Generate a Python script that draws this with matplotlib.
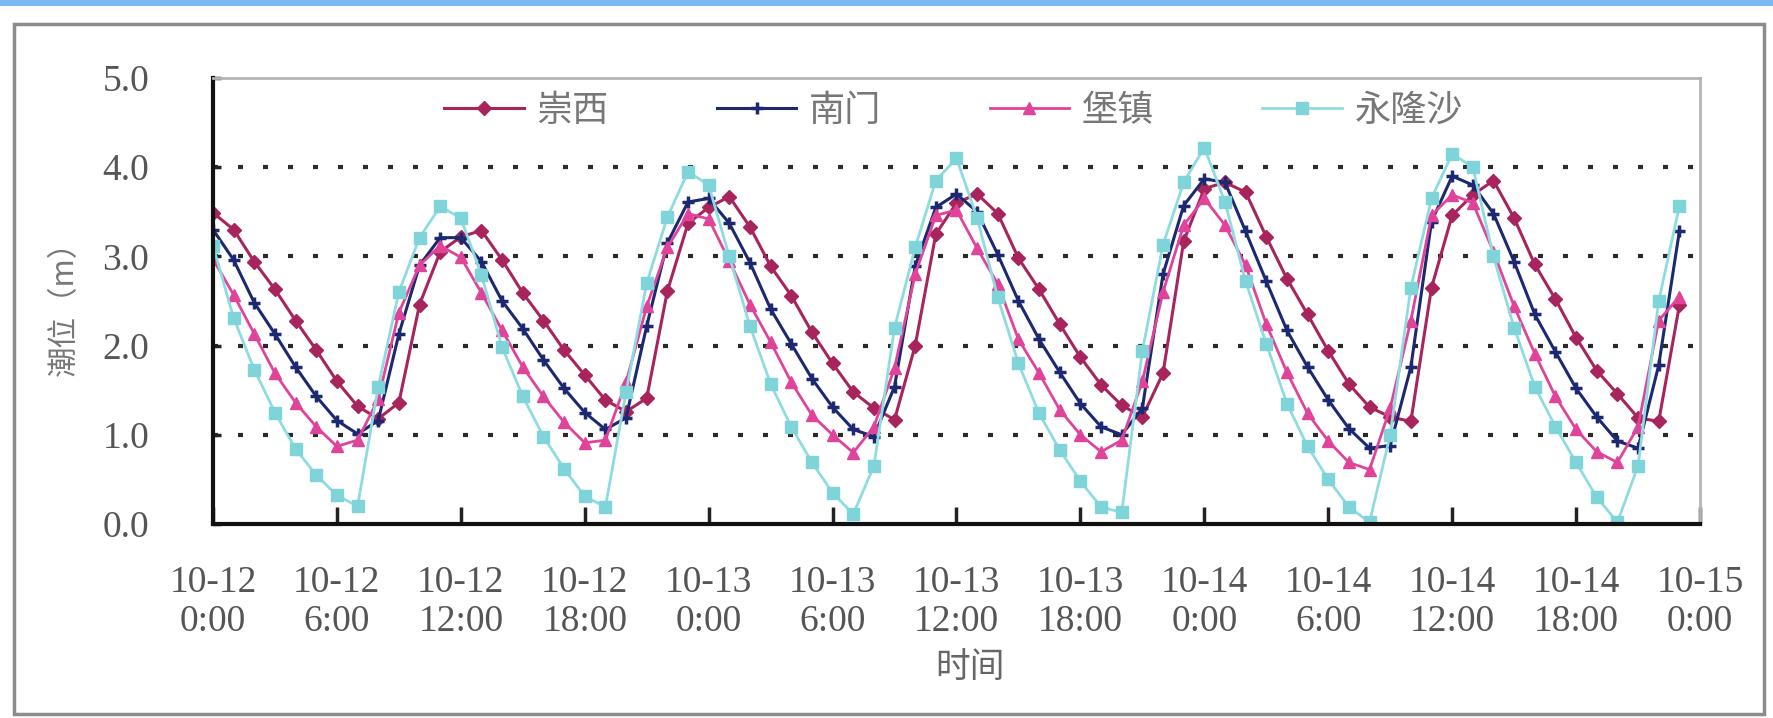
import matplotlib
matplotlib.use("Agg")
import matplotlib.pyplot as plt
from matplotlib.patches import Rectangle

# ---------------- data ----------------
hours = list(range(72))
series_names = ["崇西", "南门", "堡镇", "永隆沙"]

chongxi = [3.49, 3.30, 2.94, 2.63, 2.28, 1.95, 1.60, 1.32, 1.18, 1.36,
           2.46, 3.05, 3.22, 3.29, 2.96, 2.59, 2.28, 1.95, 1.67, 1.39,
           1.26, 1.41, 2.61, 3.37, 3.55, 3.67, 3.33, 2.89, 2.56, 2.15,
           1.80, 1.48, 1.30, 1.17, 2.00, 3.25, 3.60, 3.70, 3.48, 2.98,
           2.63, 2.24, 1.87, 1.56, 1.33, 1.20, 1.69, 3.17, 3.76, 3.83,
           3.72, 3.22, 2.75, 2.35, 1.94, 1.57, 1.31, 1.20, 1.15, 2.65,
           3.46, 3.69, 3.85, 3.43, 2.91, 2.52, 2.09, 1.72, 1.46, 1.19,
           1.15, 2.45]
nanmen = [3.30, 2.96, 2.48, 2.13, 1.76, 1.43, 1.16, 1.01, 1.16, 2.13,
          2.90, 3.21, 3.21, 2.94, 2.50, 2.19, 1.84, 1.52, 1.25, 1.06,
          1.19, 2.22, 3.15, 3.61, 3.65, 3.37, 2.93, 2.41, 2.02, 1.63,
          1.31, 1.06, 0.98, 1.54, 2.89, 3.55, 3.70, 3.50, 3.02, 2.50,
          2.07, 1.70, 1.35, 1.09, 1.00, 1.30, 2.80, 3.57, 3.87, 3.83,
          3.28, 2.72, 2.17, 1.76, 1.39, 1.07, 0.85, 0.88, 1.76, 3.39,
          3.90, 3.80, 3.48, 2.94, 2.35, 1.93, 1.52, 1.20, 0.93, 0.85,
          1.78, 3.28]
baozhen = [2.97, 2.57, 2.13, 1.69, 1.36, 1.09, 0.87, 0.94, 1.40, 2.37,
           2.90, 3.12, 2.99, 2.59, 2.17, 1.76, 1.43, 1.14, 0.91, 0.94,
           1.59, 2.44, 3.10, 3.48, 3.42, 2.95, 2.46, 2.04, 1.59, 1.22,
           1.00, 0.80, 1.09, 1.75, 2.80, 3.46, 3.52, 3.09, 2.69, 2.07,
           1.69, 1.28, 1.00, 0.81, 0.94, 1.60, 2.60, 3.35, 3.65, 3.35,
           2.90, 2.24, 1.70, 1.24, 0.93, 0.69, 0.61, 1.30, 2.28, 3.46,
           3.69, 3.60, 3.05, 2.44, 1.91, 1.43, 1.06, 0.81, 0.69, 1.09,
           2.28, 2.55]
yonglongsha = [3.12, 2.31, 1.73, 1.25, 0.84, 0.55, 0.32, 0.20, 1.54, 2.60,
               3.21, 3.56, 3.43, 2.79, 1.98, 1.43, 0.98, 0.62, 0.31, 0.19,
               1.48, 2.70, 3.44, 3.95, 3.80, 3.00, 2.22, 1.57, 1.09, 0.69,
               0.35, 0.11, 0.65, 2.20, 3.10, 3.85, 4.10, 3.43, 2.54, 1.80,
               1.24, 0.83, 0.48, 0.19, 0.13, 1.94, 3.13, 3.83, 4.22, 3.61,
               2.72, 2.02, 1.35, 0.87, 0.50, 0.19, 0.02, 1.00, 2.65, 3.65,
               4.15, 4.00, 3.00, 2.20, 1.54, 1.09, 0.69, 0.30, 0.02, 0.65,
               2.50, 3.56]

tick_hours = [0, 6, 12, 18, 24, 30, 36, 42, 48, 54, 60, 66, 72]
tick_labels = ["10-12\n0:00", "10-12\n6:00", "10-12\n12:00", "10-12\n18:00",
               "10-13\n0:00", "10-13\n6:00", "10-13\n12:00", "10-13\n18:00",
               "10-14\n0:00", "10-14\n6:00", "10-14\n12:00", "10-14\n18:00",
               "10-15\n0:00"]
y_ticks = [0, 1, 2, 3, 4, 5]
y_tick_labels = ["0.0", "1.0", "2.0", "3.0", "4.0", "5.0"]
grid_levels = [1, 2, 3, 4]

# ---------------- styles ----------------
CJK = ["Noto Sans CJK SC", "DejaVu Sans"]
NUM = ["Liberation Serif", "DejaVu Serif"]
styles = [
    dict(color="#A8245C", marker="D", ms=7, mfc="#A8245C", mec="#A8245C", lw=2.2),
    dict(color="#1C2870", marker="+", ms=9, mew=2.5, lw=2.2),
    dict(color="#E0449A", marker="^", ms=9, mfc="#E0449A", mec="#E0449A", lw=2.0),
    dict(color="#8EDCE0", marker="s", ms=8, mfc="#7ED4D8", mec="#7ED4D8", lw=2.0),
]

fig = plt.figure(figsize=(17.73, 7.18), dpi=100)
fig.patch.set_facecolor("white")

# top blue strip and outer frame
fig.add_artist(Rectangle((0, 1 - 6 / 718), 1, 6 / 718, transform=fig.transFigure,
                         facecolor="#7DB9F5", edgecolor="none"))
fig.add_artist(Rectangle((14 / 1773, 4 / 718), (1764 - 14) / 1773, (694 - 4) / 718,
                         transform=fig.transFigure, facecolor="none",
                         edgecolor="#8c8c8c", lw=2.5))

ax = fig.add_axes([213 / 1773, 1 - 524 / 718, (1700 - 213) / 1773, (524 - 78) / 718])
ax.set_facecolor("white")

all_series = [chongxi, nanmen, baozhen, yonglongsha]
for name, vals, st in zip(series_names, all_series, styles):
    ax.plot(hours, vals, label=name, **st)

for lv in grid_levels:
    ax.axhline(lv, color="#2a2a2a", lw=3.0, ls=(0, (1.2, 4.8)), zorder=0.5)

ax.set_xlim(0, 72)
ax.set_ylim(0, 5)
ax.set_xticks(tick_hours)
ax.set_xticklabels(tick_labels, fontfamily=NUM, fontsize=27, color="#555555",
                   linespacing=1.15)
ax.set_yticks(y_ticks)
ax.set_yticklabels(y_tick_labels, fontfamily=NUM, fontsize=27, color="#555555")
ax.tick_params(axis="x", direction="in", length=12, width=2.5, color="#222222", pad=30)
ax.tick_params(axis="y", direction="in", length=6, width=2.5, color="#222222", pad=46)

for s in ["left", "bottom"]:
    ax.spines[s].set_color("#111111")
    ax.spines[s].set_linewidth(3)
for s in ["top", "right"]:
    ax.spines[s].set_color("#b5b5b5")
    ax.spines[s].set_linewidth(2)

ax.set_ylabel("潮位（m）", fontfamily=CJK, fontsize=22, color="#777777", labelpad=16)
fig.text(970 / 1773, 1 - 667 / 718, "时间", fontfamily=CJK, fontsize=25,
         color="#666666", ha="center", va="center")

leg = ax.legend(loc="center", bbox_to_anchor=(0.498, 0.926), ncol=4, frameon=False,
                prop={"family": CJK, "size": 26}, handlelength=2.2,
                handletextpad=0.35, columnspacing=3.0)
for t in leg.get_texts():
    t.set_color("#777777")

fig.savefig("out.png", dpi=100, facecolor="white")
